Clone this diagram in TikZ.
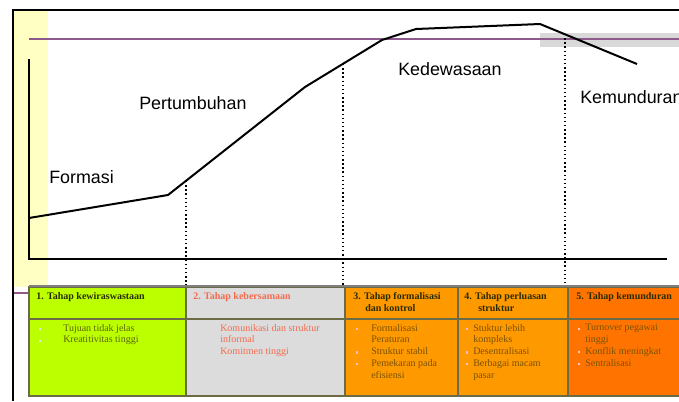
\documentclass[tikz,border=0pt]{standalone}
\usepackage{fontspec}
\setmainfont{Liberation Serif}
\newfontfamily\lsans{Liberation Sans}
\definecolor{yellowbg}{HTML}{FFFFC4}
\definecolor{bandgray}{HTML}{D9D9D9}
\definecolor{purp}{HTML}{8E5A8E}
\definecolor{limec}{HTML}{BBFF00}
\definecolor{grayc}{HTML}{DCDCDC}
\definecolor{orangec}{HTML}{FF9900}
\definecolor{redorc}{HTML}{FF7400}
\definecolor{cellborder}{HTML}{6B6B45}
\definecolor{olivetxt}{HTML}{5C6600}
\definecolor{salmontxt}{HTML}{F26B4F}
\definecolor{browntxt}{HTML}{7A5200}
\definecolor{hdrdark}{HTML}{2B2B00}
\newcommand{\bulx}[2]{\llap{\textcolor{#1}{\rule[0.25ex]{0.45ex}{0.45ex}}\hspace{#2}}}
\begin{document}
\begin{tikzpicture}[x=0.75pt,y=-0.75pt,
  stagelabel/.style={font=\lsans\fontsize{13.4}{15}\selectfont, anchor=west, inner sep=0pt},
  cellbox/.style={draw=cellborder, line width=1.3pt},
  hdr/.style={font=\bfseries\fontsize{7.5}{9}\selectfont, anchor=north west, inner sep=0pt, align=left},
  bodytxt/.style={font=\fontsize{7.5}{8.8}\selectfont, anchor=north west, inner sep=0pt, align=left},
  dotline/.style={dotted, line width=1.1pt},
  thick2/.style={line width=1.5pt}]
\useasboundingbox (0,0) rectangle (679,401);
\clip (0,0) rectangle (679,401);
% backgrounds
\fill[yellowbg] (13,10) rectangle (48,287);
\fill[bandgray] (540,33) rectangle (679,47);
\draw[purp, line width=1.3pt] (29,39) -- (679,39);
\draw[purp, line width=1.5pt] (13,293) -- (29,293);
% frame
\draw[thick2] (13,401) -- (13,10) -- (679,10);
% axes
\coordinate (ytop) at (29,59);
\coordinate (origin) at (29,259);
\coordinate (xend) at (667,259);
\draw[thick2] (ytop) -- (origin) -- (xend);
% curve
\coordinate (c0) at (29,218);
\coordinate (c1) at (168,195);
\coordinate (c2) at (305,87);
\coordinate (c3) at (382,40);
\coordinate (c4) at (416,29);
\coordinate (c5) at (540,24);
\coordinate (c6) at (637,64);
\draw[thick2, line join=round] (c0) -- (c1) -- (c2) -- (c3) -- (c4) -- (c5) -- (c6);
% dotted lines
\coordinate (d1t) at (186,181); \coordinate (d1b) at (186,287);
\coordinate (d2t) at (343,64);  \coordinate (d2b) at (343,287);
\coordinate (d3t) at (565,34);  \coordinate (d3b) at (565,287);
\draw[dotline] (d1t) -- (d1b);
\draw[dotline] (d2t) -- (d2b);
\draw[dotline] (d3t) -- (d3b);
% stage labels
\node[stagelabel] (lform) at (49,177) {Formasi};
\node[stagelabel] (lpert) at (139,103) {Pertumbuhan};
\node[stagelabel] (lkede) at (398,69) {Kedewasaan};
\node[stagelabel] (lkemu) at (580,97) {Kemunduran};
% table cells
\draw[cellbox, fill=limec]   (29,287) rectangle (186,396);
\draw[cellbox, fill=grayc]   (186,287) rectangle (345,396);
\draw[cellbox, fill=orangec] (345,287) rectangle (458,396);
\draw[cellbox, fill=orangec] (458,287) rectangle (568,396);
\draw[cellbox, fill=redorc]  (568,287) rectangle (685,396);
\draw[cellborder, line width=1.3pt] (29,319) -- (685,319);
\draw[gray, line width=0.8pt] (29,286) -- (685,286);
% headers
\node[hdr, text=hdrdark] (h1) at (36,292) {1. Tahap kewiraswastaan};
\node[hdr, text=salmontxt] (h2) at (193,292) {2. Tahap kebersamaan};
\node[hdr, text=hdrdark] (h3) at (353,292) {3. Tahap formalisasi\\\hspace*{9pt}dan kontrol};
\node[hdr, text=hdrdark] (h4) at (464,292) {4. Tahap perluasan\\\hspace*{10.5pt}struktur};
\node[hdr, text=hdrdark] (h5) at (576,292) {5. Tahap kemunduran};
% bodies
\node[bodytxt, text=olivetxt] (b1) at (63,324)
  {\bulx{white!80!gray}{17pt}Tujuan tidak jelas\\\bulx{white!80!gray}{17pt}Kreatitivitas tinggi};
\node[bodytxt, text=salmontxt] (b2) at (220,324)
  {\bulx{white!75!gray}{17pt}Komunikasi dan struktur\\informal\\\bulx{white!75!gray}{17pt}Komitmen tinggi};
\node[bodytxt, text=browntxt] (b3) at (371,324)
  {\bulx{pink}{10pt}Formalisasi\\Peraturan\\\bulx{pink}{10pt}Struktur stabil\\\bulx{pink}{10pt}Pemekaran pada\\efisiensi};
\node[bodytxt, text=browntxt] (b4) at (473,324)
  {\bulx{pink}{4pt}Stuktur lebih\\kompleks\\\bulx{pink}{4pt}Desentralisasi\\\bulx{pink}{4pt}Berbagai macam\\pasar};
\node[bodytxt, text=browntxt] (b5) at (585,324)
  {\bulx{pink}{4pt}Turnover pegawai\\tinggi\\\bulx{pink}{4pt}Konflik meningkat\\\bulx{pink}{4pt}Sentralisasi};
\end{tikzpicture}
\end{document}
